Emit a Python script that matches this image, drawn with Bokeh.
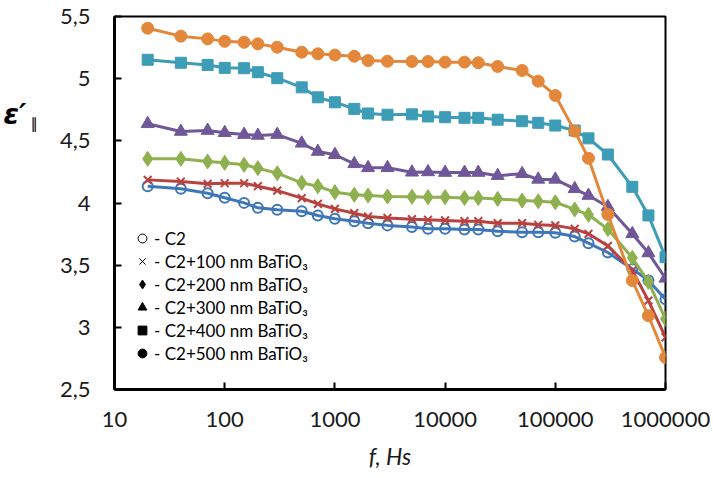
from bokeh.plotting import figure
from bokeh.models import Range1d, FixedTicker, Legend, LegendItem, LinearAxis
from bokeh.embed import file_html
from bokeh.resources import INLINE

# ---- data ----
freq = [20, 40, 70, 100, 150, 200, 300, 500, 700, 1000, 1500, 2000, 3000, 5000,
        7000, 10000, 15000, 20000, 30000, 50000, 70000, 100000, 150000, 200000,
        300000, 500000, 700000, 1000000]

c2 = [4.135, 4.114, 4.079, 4.042, 4.001, 3.961, 3.945, 3.934, 3.900, 3.873, 3.854,
      3.838, 3.820, 3.807, 3.792, 3.792, 3.787, 3.787, 3.773, 3.765, 3.765, 3.760,
      3.730, 3.677, 3.602, 3.470, 3.376, 3.226]
c2_100 = [4.186, 4.173, 4.154, 4.159, 4.159, 4.135, 4.100, 4.039, 3.993, 3.953, 3.918,
          3.891, 3.880, 3.870, 3.865, 3.860, 3.854, 3.854, 3.838, 3.838, 3.825, 3.820,
          3.792, 3.752, 3.655, 3.457, 3.215, 2.920]
c2_200 = [4.355, 4.355, 4.334, 4.323, 4.307, 4.280, 4.240, 4.162, 4.135, 4.087, 4.066,
          4.060, 4.052, 4.050, 4.047, 4.047, 4.040, 4.040, 4.033, 4.020, 4.014, 4.006,
          3.948, 3.905, 3.790, 3.559, 3.365, 3.068]
c2_300 = [4.637, 4.575, 4.583, 4.565, 4.550, 4.543, 4.550, 4.480, 4.414, 4.388, 4.315,
          4.283, 4.283, 4.247, 4.250, 4.245, 4.245, 4.245, 4.220, 4.235, 4.190, 4.190,
          4.114, 4.060, 3.970, 3.752, 3.598, 3.394]
c2_400 = [5.152, 5.128, 5.110, 5.087, 5.084, 5.052, 5.004, 4.930, 4.850, 4.810, 4.757,
          4.720, 4.710, 4.713, 4.696, 4.690, 4.685, 4.685, 4.670, 4.658, 4.645, 4.623,
          4.583, 4.520, 4.390, 4.130, 3.900, 3.564]
c2_500 = [5.406, 5.342, 5.320, 5.300, 5.293, 5.280, 5.253, 5.213, 5.200, 5.190, 5.180,
          5.146, 5.140, 5.138, 5.138, 5.133, 5.133, 5.128, 5.098, 5.066, 4.980, 4.865,
          4.578, 4.360, 3.908, 3.376, 3.093, 2.757]

series_labels = ["- C2", "- C2+100 nm BaTiO₃", "- C2+200 nm BaTiO₃",
                 "- C2+300 nm BaTiO₃", "- C2+400 nm BaTiO₃", "- C2+500 nm BaTiO₃"]

x_ticks = [10, 100, 1000, 10000, 100000, 1000000]
x_tick_labels = ["10", "100", "1000", "10000", "100000", "1000000"]
y_ticks = [2.5, 3, 3.5, 4, 4.5, 5, 5.5]
y_tick_labels = ["2,5", "3", "3,5", "4", "4,5", "5", "5,5"]
y_title_main = "ε′"
y_title_sub = "∥"
x_title = "f, Hs"

FONT = "Lato"

p = figure(width=713, height=478, x_axis_type="log",
           x_range=Range1d(10, 1000000), y_range=Range1d(2.5, 5.5),
           output_backend="svg", toolbar_location=None,
           min_border_left=114, min_border_right=48,
           min_border_top=16, min_border_bottom=89)
p.background_fill_color = "white"
p.border_fill_color = "white"
p.outline_line_color = "black"
p.outline_line_width = 2
p.xgrid.visible = False
p.ygrid.visible = False

styles = [
    dict(data=c2, color="#3F76B7", marker="circle", size=10, fill=None, lw=2),
    dict(data=c2_100, color="#B7423F", marker="x", size=11, fill=None, lw=2),
    dict(data=c2_200, color="#8FB04E", marker="diamond", size=15, fill="same", lw=1),
    dict(data=c2_300, color="#705799", marker="triangle", size=13, fill="same", lw=1),
    dict(data=c2_400, color="#3D9CB6", marker="square", size=11, fill="same", lw=1),
    dict(data=c2_500, color="#E3883B", marker="circle", size=12, fill="same", lw=1),
]

for s in styles:
    p.line(freq, s["data"], line_color=s["color"], line_width=3)
    fc = s["color"] if s["fill"] == "same" else None
    p.scatter(freq, s["data"], marker=s["marker"], size=s["size"],
              line_color=s["color"], fill_color=fc, line_width=s["lw"])

# legend with black symbols: hidden renderers of the same series
leg_markers = ["circle", "x", "diamond", "triangle", "square", "circle"]
leg_fill = [None, None, "black", "black", "black", "black"]
items = []
for s, m, f, lab in zip(styles, leg_markers, leg_fill, series_labels):
    r = p.scatter(freq, s["data"], marker=m, line_color="black", fill_color=f,
                  line_width=1, visible=False)
    items.append(LegendItem(label=lab, renderers=[r]))
legend = Legend(items=items, location=(17, 25), padding=0, spacing=1,
                glyph_width=22, glyph_height=22, label_height=22,
                label_standoff=1, border_line_color=None,
                background_fill_alpha=0, label_text_font=FONT,
                label_text_font_size="17px", label_text_color="black",
                click_policy="none")
p.add_layout(legend, "center")

# axes
for ax in (p.xaxis[0], p.yaxis[0]):
    ax.axis_line_width = 3
    ax.axis_line_color = "black"
    ax.major_tick_in = 7
    ax.major_tick_out = 0
    ax.major_tick_line_width = 2
    ax.major_tick_line_color = "black"
    ax.minor_tick_in = 0
    ax.minor_tick_out = 0
    ax.major_label_text_font = FONT
    ax.major_label_text_font_size = "22px"
    ax.major_label_text_color = "#1a1a1a"

p.xaxis.ticker = FixedTicker(ticks=x_ticks, minor_ticks=[])
p.xaxis.major_label_overrides = dict(zip(x_ticks, x_tick_labels))
p.xaxis.major_label_standoff = 22
p.xaxis.axis_label = x_title
p.xaxis.axis_label_text_font = FONT
p.xaxis.axis_label_text_font_style = "italic"
p.xaxis.axis_label_text_font_size = "23px"
p.xaxis.axis_label_text_color = "#1a1a1a"
p.xaxis.axis_label_standoff = 12

yax = p.yaxis[0]
yax.ticker = FixedTicker(ticks=y_ticks, minor_ticks=[])
yax.major_label_overrides = dict(zip(y_ticks, y_tick_labels))
yax.major_label_standoff = 24
# subscript "∥" as the main axis title (blank lines lift it towards the top)
yax.axis_label = y_title_sub + "\n" * 8
yax.axis_label_orientation = "horizontal"
yax.axis_label_standoff = 19
yax.axis_label_text_font = "DejaVu Sans"
yax.axis_label_text_font_style = "normal"
yax.axis_label_text_font_size = "15px"
yax.axis_label_text_line_height = 1.1
yax.axis_label_text_color = "black"

# epsilon prime on an outer, tick-less left axis
eps_axis = LinearAxis(ticker=FixedTicker(ticks=[], minor_ticks=[]),
                      axis_line_color=None, major_tick_line_color=None,
                      minor_tick_line_color=None, major_label_text_alpha=0,
                      axis_label=y_title_main + "\n" * 5,
                      axis_label_orientation="horizontal",
                      axis_label_standoff=1,
                      axis_label_text_font="DejaVu Sans",
                      axis_label_text_font_style="bold italic",
                      axis_label_text_font_size="28px",
                      axis_label_text_line_height=1.07,
                      axis_label_text_color="black")
p.add_layout(eps_axis, "left")

open("out.html", "w").write(file_html(p, INLINE))
